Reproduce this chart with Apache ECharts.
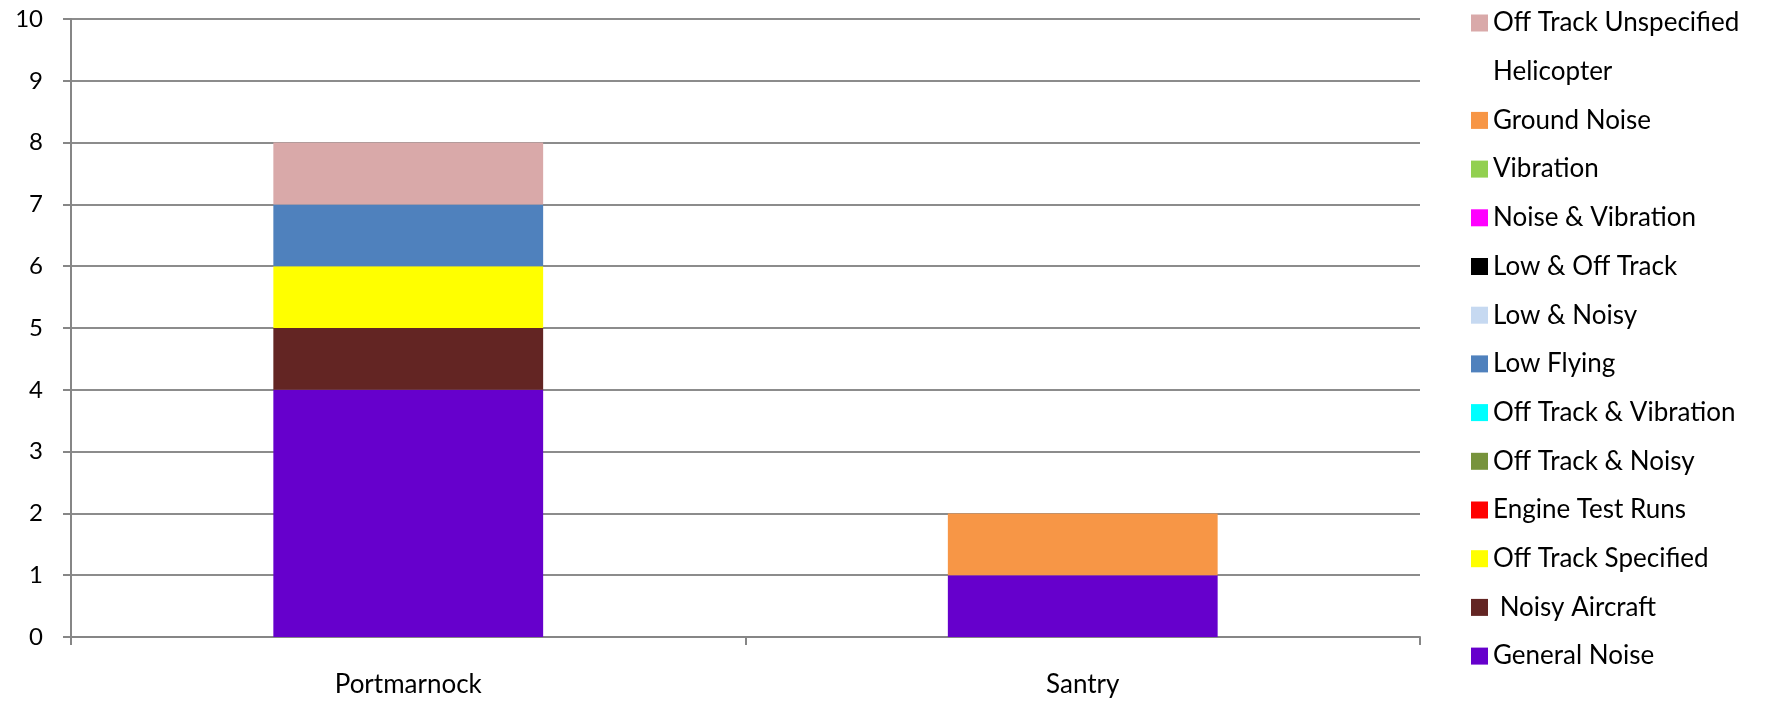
<!DOCTYPE html>
<html>
<head>
<meta charset="utf-8">
<script src="https://cdn.jsdelivr.net/npm/echarts@6/dist/echarts.min.js"></script>
<style>html,body{margin:0;padding:0;background:#fff;}#c{width:1766px;height:701px;}</style>
</head>
<body>
<div id="c"></div>
<script>
const categories = ['Portmarnock', 'Santry'];
const yTicks = [0, 1, 2, 3, 4, 5, 6, 7, 8, 9, 10];

// series in stacking order (bottom to top)
const seriesNames = ['General Noise', ' Noisy Aircraft', 'Off Track Specified', 'Engine Test Runs',
  'Off Track & Noisy', 'Off Track & Vibration', 'Low Flying', 'Low & Noisy', 'Low & Off Track',
  'Noise & Vibration', 'Vibration', 'Ground Noise', 'Helicopter', 'Off Track Unspecified'];
const seriesColors = ['#6600CC', '#632523', '#FFFF00', '#FF0000', '#77933C', '#00FFFF', '#4F81BD',
  '#C6D9F1', '#000000', '#FF00FF', '#92D050', '#F79646', '#FFFFFF', '#D9A9A9'];

const generalNoise = [4, 1];
const noisyAircraft = [1, 0];
const offTrackSpecified = [1, 0];
const engineTestRuns = [0, 0];
const offTrackNoisy = [0, 0];
const offTrackVibration = [0, 0];
const lowFlying = [1, 0];
const lowNoisy = [0, 0];
const lowOffTrack = [0, 0];
const noiseVibration = [0, 0];
const vibration = [0, 0];
const groundNoise = [0, 1];
const helicopter = [0, 0];
const offTrackUnspecified = [1, 0];

const seriesValues = [generalNoise, noisyAircraft, offTrackSpecified, engineTestRuns, offTrackNoisy,
  offTrackVibration, lowFlying, lowNoisy, lowOffTrack, noiseVibration, vibration, groundNoise,
  helicopter, offTrackUnspecified];

const FONT = 'Lato';
const chart = echarts.init(document.getElementById('c'), null, {renderer: 'canvas'});
chart.setOption({
  animation: false,
  backgroundColor: '#ffffff',
  grid: {left: 71, right: 346, top: 19, bottom: 64},
  legend: {
    orient: 'vertical',
    left: 1471,
    top: 10,
    padding: 0,
    itemWidth: 17,
    itemHeight: 17,
    itemGap: 22.7,
    icon: 'rect',
    data: seriesNames.slice().reverse(),
    textStyle: {fontFamily: FONT, fontSize: 26, color: '#000', lineHeight: 26},
    selectedMode: false
  },
  xAxis: {
    type: 'category',
    data: categories,
    axisLine: {lineStyle: {color: '#868686', width: 2}},
    axisTick: {show: true, length: 8, lineStyle: {color: '#868686', width: 2}},
    axisLabel: {fontFamily: FONT, fontSize: 26, color: '#000', margin: 35, lineHeight: 26}
  },
  yAxis: {
    type: 'value',
    min: yTicks[0],
    max: yTicks[yTicks.length - 1],
    interval: 1,
    axisLine: {show: true, lineStyle: {color: '#868686', width: 2}},
    axisTick: {show: true, length: 8, lineStyle: {color: '#868686', width: 2}},
    splitLine: {lineStyle: {color: '#8c8c8c', width: 2}},
    axisLabel: {fontFamily: FONT, fontSize: 24, color: '#000', margin: 28}
  },
  series: seriesNames.map((n, i) => ({
    name: n,
    type: 'bar',
    stack: 'total',
    barWidth: '40%',
    itemStyle: {color: seriesColors[i]},
    data: seriesValues[i].map(v => v === 0 ? null : v)
  }))
});
</script>
</body>
</html>
